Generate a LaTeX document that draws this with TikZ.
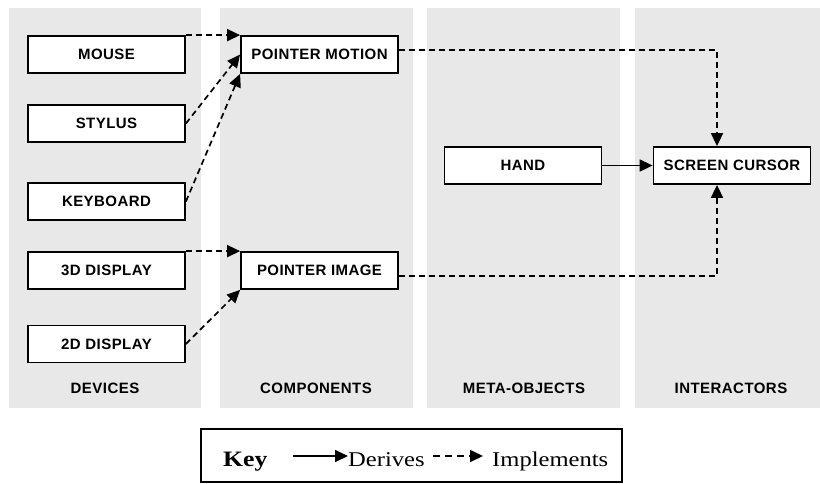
\documentclass[tikz,border=0pt]{standalone}
\usepackage{fontspec}
\newfontfamily\boxfont[LetterSpace=3]{Liberation Sans}
\newfontfamily\keyfont[FakeStretch=1.17]{Liberation Serif}
\usetikzlibrary{arrows.meta}
\definecolor{colbg}{HTML}{E8E8E8}
\tikzset{
  col/.style={fill=colbg, draw=none},
  item/.style={draw, line width=1.8pt, fill=white, minimum width=157pt, minimum height=37pt, inner sep=0pt, font=\boxfont\bfseries\fontsize{15}{17}\selectfont},
  coltitle/.style={font=\boxfont\bfseries\fontsize{15}{17}\selectfont, inner sep=0pt},
  impl/.style={line width=1.7pt, dash pattern=on 6pt off 4pt, -{Triangle[length=13pt,width=12pt]}},
  deriv/.style={line width=1.7pt, -{Triangle[length=13pt,width=12pt]}},
  keytext/.style={font=\keyfont\fontsize{21}{24}\selectfont, inner sep=0pt, anchor=base west},
}
\begin{document}
\begin{tikzpicture}[x=1pt,y=-1pt]
\useasboundingbox (0,0) rectangle (820,483);
\fill[white] (0,0) rectangle (820,483);
% columns
\fill[col] (9,8) rectangle (201,408);
\fill[col] (220,8) rectangle (413,408);
\fill[col] (427,8) rectangle (620,408);
\fill[col] (635,8) rectangle (820,408);
% column titles
\node[coltitle] (tdev) at (105,388) {DEVICES};
\node[coltitle] (tcomp) at (316,388) {COMPONENTS};
\node[coltitle] (tmeta) at (524,388) {META-OBJECTS};
\node[coltitle] (tint) at (731,388) {INTERACTORS};
% boxes
\node[item] (mouse) at (106.5,54.5) {MOUSE};
\node[item] (stylus) at (106.5,123.5) {STYLUS};
\node[item] (keyboard) at (106.5,201.5) {KEYBOARD};
\node[item] (d3) at (106.5,270.5) {3D DISPLAY};
\node[item] (d2) at (106.5,344) {2D DISPLAY};
\node[item] (pmotion) at (319.5,54.5) {POINTER MOTION};
\node[item] (pimage) at (319.5,270.5) {POINTER IMAGE};
\node[item] (hand) at (523,165.5) {HAND};
\node[item] (cursor) at (732,165.5) {SCREEN CURSOR};
% connectors
\draw[impl] (mouse.north east) -- (pmotion.north west);
\draw[impl] (stylus.east) -- (pmotion.west);
\draw[impl] (keyboard.east) -- (pmotion.south west);
\draw[impl] (d3.north east) -- (pimage.north west);
\draw[impl] (d2.east) -- (pimage.south west);
\draw[impl] ([yshift=4.5pt]pmotion.east) -| ([xshift=-15pt]cursor.north);
\draw[impl] ([yshift=-5.5pt]pimage.east) -| ([xshift=-15pt]cursor.south);
\draw[deriv] (hand.east) -- (cursor.west);
% key
\node[draw, line width=1.8pt, minimum width=421pt, minimum height=53pt, inner sep=0pt] (keybox) at (411.5,455.5) {};
\node[keytext, font=\keyfont\bfseries\fontsize{22}{24}\selectfont] (keytitle) at (223,466) {Key};
\node[keytext] (derives) at (348,466) {Derives};
\node[keytext] (implements) at (492,466) {Implements};
\coordinate (ka) at (293,456);
\coordinate (kb) at (433,456);
\draw[deriv] (ka) -- (derives.west |- ka);
\draw[impl, dash pattern=on 7pt off 5pt] (kb) -- ([xshift=-9pt]implements.west |- kb);
\end{tikzpicture}
\end{document}
